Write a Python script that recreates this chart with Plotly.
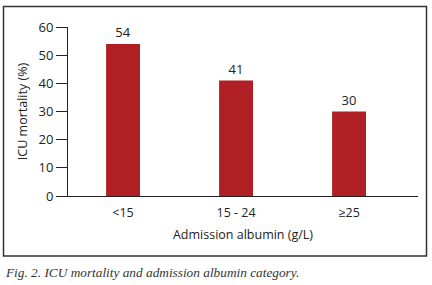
import plotly.graph_objects as go

categories = ["<15", "15 - 24", "≥25"]
mortality = [54, 41, 30]
y_ticks = [0, 10, 20, 30, 40, 50, 60]

L, R, T, B = 68, 14, 27, 89
W, H = 432, 285
pw, ph = W - L - R, H - T - B

def px(x):
    return (x - L) / pw

def py(y):
    return (H - B - y) / ph

xpos = list(range(len(categories)))

fig = go.Figure(go.Bar(
    x=xpos, y=mortality, width=0.30,
    marker=dict(color="#b01f24", line=dict(width=0)),
    text=[str(v) for v in mortality], textposition="outside",
    textfont=dict(family="Open Sans", size=13, color="#222"),
    cliponaxis=False,
))

fig.update_layout(
    width=W, height=H,
    margin=dict(l=L, r=R, t=T, b=B),
    paper_bgcolor="white", plot_bgcolor="white",
    showlegend=False,
    font=dict(family="Open Sans", size=11, color="#222"),
    xaxis=dict(
        range=[-0.487, 2.61], tickmode="array", tickvals=xpos, ticktext=categories,
        showgrid=False, zeroline=False, showline=True, linecolor="#222", linewidth=1,
        ticks="", tickfont=dict(size=12.5), ticklabelstandoff=5,
        title=dict(text="Admission albumin (g/L)", font=dict(size=12.5), standoff=10),
    ),
    yaxis=dict(
        range=[0, 60], tickmode="array", tickvals=y_ticks,
        showgrid=False, zeroline=False, showline=True, linecolor="#222", linewidth=1,
        ticks="outside", ticklen=11, tickcolor="#222", tickfont=dict(size=13),
        title=dict(text="ICU mortality (%)", font=dict(size=12.5), standoff=8),
    ),
    shapes=[dict(type="rect", xref="paper", yref="paper",
                 x0=px(3.5), x1=px(426.5), y0=py(256), y1=py(6.5),
                 line=dict(color="#333", width=1.5))],
    annotations=[dict(text="<i>Fig. 2. ICU mortality and admission albumin category.</i>",
                      xref="paper", yref="paper", x=px(3), y=py(272),
                      xanchor="left", yanchor="middle", showarrow=False,
                      font=dict(family="Liberation Serif", size=13.3, color="#333"))],
)

fig.write_html("out.html", config={"displayModeBar": False},
               post_script="document.body.style.margin='0';document.body.style.overflow='hidden';")
